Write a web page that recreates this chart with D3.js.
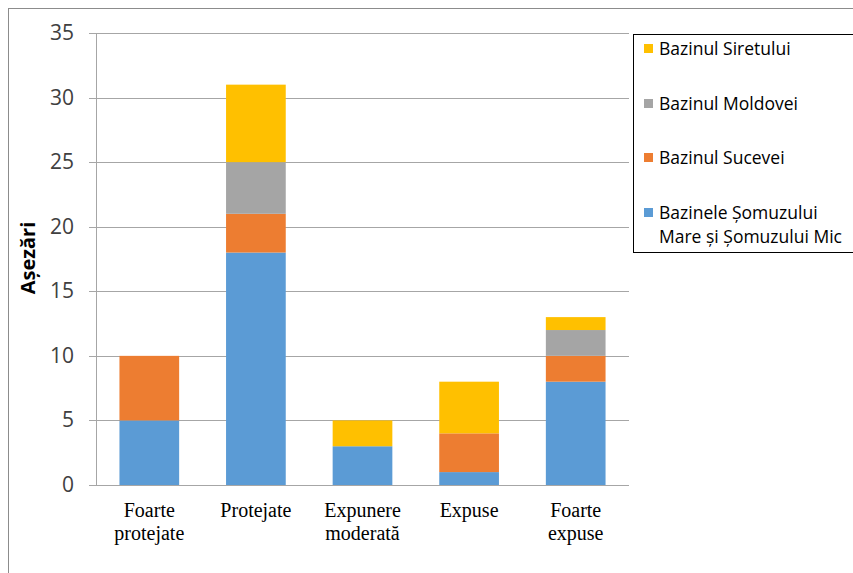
<!DOCTYPE html>
<html>
<head>
<meta charset="utf-8">
<script src="https://cdn.jsdelivr.net/npm/d3@7"></script>
<style>
	body { margin: 0; background: #fff; }
	svg { display: block; }
</style>
</head>
<body>
<script>

//****************************************************************************************************************************//
// Data

var categories = [["Foarte", "protejate"], ["Protejate"], ["Expunere", "moderată"], ["Expuse"], ["Foarte", "expuse"]];
var seriesNames = ["Bazinele Șomuzului Mare și Șomuzului Mic", "Bazinul Sucevei", "Bazinul Moldovei", "Bazinul Siretului"];
var somuzValues = [5, 18, 3, 1, 8];
var suceavaValues = [5, 3, 0, 3, 2];
var moldovaValues = [0, 4, 0, 0, 2];
var siretValues = [0, 6, 2, 4, 1];
var yTicks = [0, 5, 10, 15, 20, 25, 30, 35];
var colours = ["#5B9BD5", "#ED7D31", "#A5A5A5", "#FFC000"];

var width = 853, height = 573;

var canvas = d3.select("body").append("svg")
				.attr("width", width)
				.attr("height", height);

// outer chart border
canvas.append("rect")
		.attr("x", 8.5).attr("y", 8.5)
		.attr("width", width + 20).attr("height", height + 20)
		.attr("fill", "white")
		.attr("stroke", "#8c8c8c")
		.attr("stroke-width", 1);

//****************************************************************************************************************************//
// Scales

var plot = { left : 96, right : 629, top : 33, bottom : 485 };

var rows = categories.map(function(c, i){
	return { cat : i, s0 : somuzValues[i], s1 : suceavaValues[i], s2 : moldovaValues[i], s3 : siretValues[i] };
});
var stack = d3.stack().keys(["s0", "s1", "s2", "s3"])(rows);

var x = d3.scaleBand()
			.domain(d3.range(categories.length))
			.range([plot.left, plot.right])
			.paddingInner(0.44)
			.paddingOuter(0.22);

var y = d3.scaleLinear()
			.domain([0, 35])
			.range([plot.bottom, plot.top]);

//****************************************************************************************************************************//
// Grid and axes

canvas.append("g")
		.selectAll("line")
		.data(yTicks)
		.enter().append("line")
		.attr("x1", plot.left - 7)
		.attr("x2", plot.right)
		.attr("y1", function(d){ return Math.round(y(d)) + 0.5; })
		.attr("y2", function(d){ return Math.round(y(d)) + 0.5; })
		.attr("stroke", "#a6a6a6")
		.attr("stroke-width", 1);

canvas.append("line")
		.attr("x1", plot.left + 0.5).attr("x2", plot.left + 0.5)
		.attr("y1", plot.top).attr("y2", plot.bottom)
		.attr("stroke", "#a6a6a6");

canvas.append("g")
		.selectAll("text")
		.data(yTicks)
		.enter().append("text")
		.attr("x", 74)
		.attr("y", function(d){ return y(d) + 7; })
		.attr("text-anchor", "end")
		.style("font-family", "Open Sans, sans-serif")
		.style("font-size", "21px")
		.attr("fill", "#404040")
		.text(function(d){ return d; });

canvas.append("text")
		.attr("transform", "translate(35,258) rotate(-90)")
		.attr("text-anchor", "middle")
		.style("font-family", "Open Sans, sans-serif")
		.style("font-size", "20px")
		.style("font-weight", "bold")
		.attr("fill", "#000")
		.text("Așezări");

//****************************************************************************************************************************//
// Bars

canvas.append("g")
		.selectAll("g")
		.data(stack)
		.enter().append("g")
		.attr("fill", function(d, i){ return colours[i]; })
		.selectAll("rect")
		.data(function(d){ return d; })
		.enter().append("rect")
		.attr("x", function(d){ return x(d.data.cat); })
		.attr("width", x.bandwidth())
		.attr("y", function(d){ return y(d[1]); })
		.attr("height", function(d){ return y(d[0]) - y(d[1]); });

// category labels
var catLabels = canvas.append("g")
		.selectAll("text")
		.data(categories)
		.enter().append("text")
		.attr("x", function(d, i){ return x(i) + x.bandwidth() / 2; })
		.attr("y", 517)
		.attr("text-anchor", "middle")
		.style("font-family", "Liberation Serif, serif")
		.style("font-size", "20px")
		.attr("fill", "#000");

catLabels.selectAll("tspan")
		.data(function(d){ return d; })
		.enter().append("tspan")
		.attr("x", function(){ return d3.select(this.parentNode).attr("x"); })
		.attr("dy", function(d, i){ return i === 0 ? 0 : 23; })
		.text(function(d){ return d; });

//****************************************************************************************************************************//
// Legend

var legend = canvas.append("g");

legend.append("rect")
		.attr("x", 633.5).attr("y", 34.5)
		.attr("width", 240).attr("height", 218)
		.attr("fill", "white")
		.attr("stroke", "#000")
		.attr("stroke-width", 1);

var legendItems = [
	{ idx : 3, y : 49, lines : ["Bazinul Siretului"] },
	{ idx : 2, y : 104, lines : ["Bazinul Moldovei"] },
	{ idx : 1, y : 158, lines : ["Bazinul Sucevei"] },
	{ idx : 0, y : 213, lines : ["Bazinele Șomuzului", "Mare și Șomuzului Mic"] }
];

var items = legend.selectAll("g.item")
		.data(legendItems)
		.enter().append("g")
		.attr("class", "item")
		.attr("transform", function(d){ return "translate(0," + d.y + ")"; });

items.append("rect")
		.attr("x", 644).attr("y", -5)
		.attr("width", 9).attr("height", 9)
		.attr("fill", function(d){ return colours[d.idx]; });

items.append("text")
		.style("font-family", "Open Sans, sans-serif")
		.style("font-size", "17.5px")
		.attr("fill", "#000")
		.selectAll("tspan")
		.data(function(d){ return d.lines; })
		.enter().append("tspan")
		.attr("x", 659)
		.attr("y", function(d, i){ return 6 + i * 24; })
		.text(function(d){ return d; });

</script>
</body>
</html>
